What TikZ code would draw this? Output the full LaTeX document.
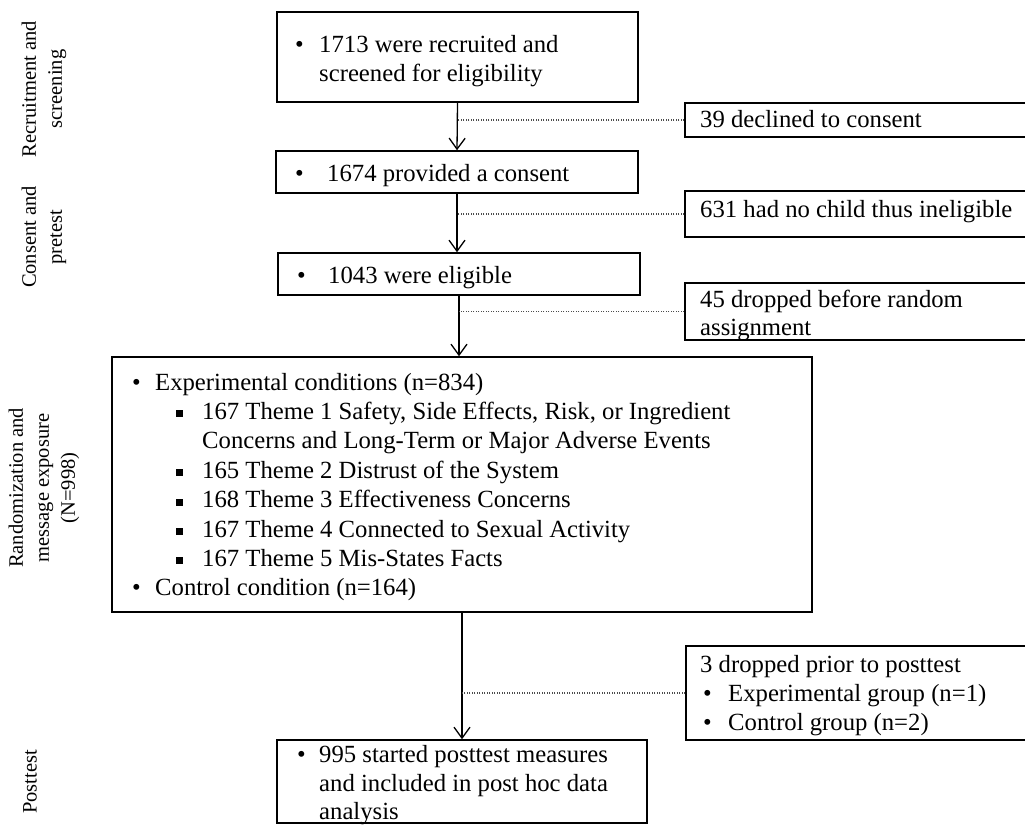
\documentclass[tikz,border=0pt]{standalone}
\usepackage{fontspec}
\setmainfont{Liberation Serif}
\usetikzlibrary{arrows.meta}
\newcommand\sqbul{\rule[2pt]{7pt}{7pt}}
\begin{document}
\begin{tikzpicture}[x=1pt,y=-1pt,
 box/.style={draw, line width=1.5pt, inner sep=0pt, rectangle},
 tx/.style={anchor=base west, inner sep=0pt, font=\fontsize{24.7}{29.4}\selectfont},
 lab/.style={rotate=90, align=center, inner sep=0pt, font=\fontsize{20.5}{26}\selectfont},
 arr/.style={line width=1.3pt, -{Straight Barb[length=11pt,width=16pt,line width=1.3pt]}},
 dotline/.style={line width=1.1pt, dash pattern=on 1pt off 1.5pt, black!70}]
\path[use as bounding box] (0,0) rectangle (1025,825);
\clip (0,0) rectangle (1025,825);

% phase labels
\node[lab] (l1) at (44,89) {Recruitment and\\screening};
\node[lab] (l2) at (44,237) {Consent and\\pretest};
\node[lab] (l3) at (44,488) {Randomization and\\message exposure\\(N=998)};
\node[lab] (l4) at (30,782) {Posttest};

% main boxes
\node[box, minimum width=361pt, minimum height=90pt] (b1) at (457.5,57) {};
\node[box, minimum width=362pt, minimum height=42pt] (b2) at (457,172) {};
\node[box, minimum width=362pt, minimum height=42pt] (b3) at (459,274) {};
\node[box, minimum width=700pt, minimum height=255pt] (rand) at (462,484.5) {};
\node[box, minimum width=370pt, minimum height=83pt] (post) at (462,781.5) {};

% side boxes
\node[box, minimum width=355pt, minimum height=34pt] (s1) at (862.5,120) {};
\node[box, minimum width=355pt, minimum height=46pt] (s2) at (862.5,214) {};
\node[box, minimum width=355pt, minimum height=57pt] (s3) at (862.5,311.5) {};
\node[box, minimum width=354pt, minimum height=94pt] (s4) at (863,693) {};

% texts box 1
\node[tx] (t1a) at (295,52) {\textbullet};
\node[tx] (t1b) at (319,52) {1713 were recruited and};
\node[tx] (t1c) at (319,81.4) {screened for eligibility};
% box 2
\node[tx] (t2a) at (295,181) {\textbullet};
\node[tx] (t2b) at (327,181) {1674 provided a consent};
% box 3
\node[tx] (t3a) at (297,283) {\textbullet};
\node[tx] (t3b) at (328,283) {1043 were eligible};
% randomization box
\node[tx] (r0a) at (132,390) {\textbullet};
\node[tx] (r0b) at (155,390) {Experimental conditions (n=834)};
\node[tx] (r1a) at (176,419.4) {\sqbul};
\node[tx] (r1b) at (202,419.4) {167 Theme 1 Safety, Side Effects, Risk, or Ingredient};
\node[tx] (r1c) at (202,448.8) {Concerns and Long-Term or Major Adverse Events};
\node[tx] (r2a) at (176,478.2) {\sqbul};
\node[tx] (r2b) at (202,478.2) {165 Theme 2 Distrust of the System};
\node[tx] (r3a) at (176,507.6) {\sqbul};
\node[tx] (r3b) at (202,507.6) {168 Theme 3 Effectiveness Concerns};
\node[tx] (r4a) at (176,537) {\sqbul};
\node[tx] (r4b) at (202,537) {167 Theme 4 Connected to Sexual Activity};
\node[tx] (r5a) at (176,566.4) {\sqbul};
\node[tx] (r5b) at (202,566.4) {167 Theme 5 Mis-States Facts};
\node[tx] (r6a) at (132,595.8) {\textbullet};
\node[tx] (r6b) at (155,595.8) {Control condition (n=164)};
% posttest box
\node[tx] (p1a) at (297,762) {\textbullet};
\node[tx] (p1b) at (319,762) {995 started posttest measures};
\node[tx] (p1c) at (319,791.2) {and included in post hoc data};
\node[tx] (p1d) at (319,819.6) {analysis};
% side texts
\node[tx] (u1) at (700,127) {39 declined to consent};
\node[tx] (u2) at (700,217) {631 had no child thus ineligible};
\node[tx] (u3a) at (700,307) {45 dropped before random};
\node[tx] (u3b) at (700,335) {assignment};
\node[tx] (u4a) at (700,672) {3 dropped prior to posttest};
\node[tx] (u4b) at (703,701.4) {\textbullet};
\node[tx] (u4c) at (728,701.4) {Experimental group (n=1)};
\node[tx] (u4d) at (703,730.8) {\textbullet};
\node[tx] (u4e) at (728,730.8) {Control group (n=2)};

% arrows
\draw[arr] (b1.south) -- (b2.north);
\draw[arr] (b2.south) -- (b2.south |- b3.north);
\draw[arr] (b3.south) -- (b3.south |- rand.north);
\draw[arr] (rand.south) -- (post.north);

% dotted connectors
\draw[dotline] (s1.west) -- (s1.west -| b1.south);
\draw[dotline] (s2.west) -- (s2.west -| b2.south);
\draw[dotline] (s3.west) -- (s3.west -| b3.south);
\draw[dotline] (s4.west) -- (s4.west -| rand.south);
\end{tikzpicture}
\end{document}
